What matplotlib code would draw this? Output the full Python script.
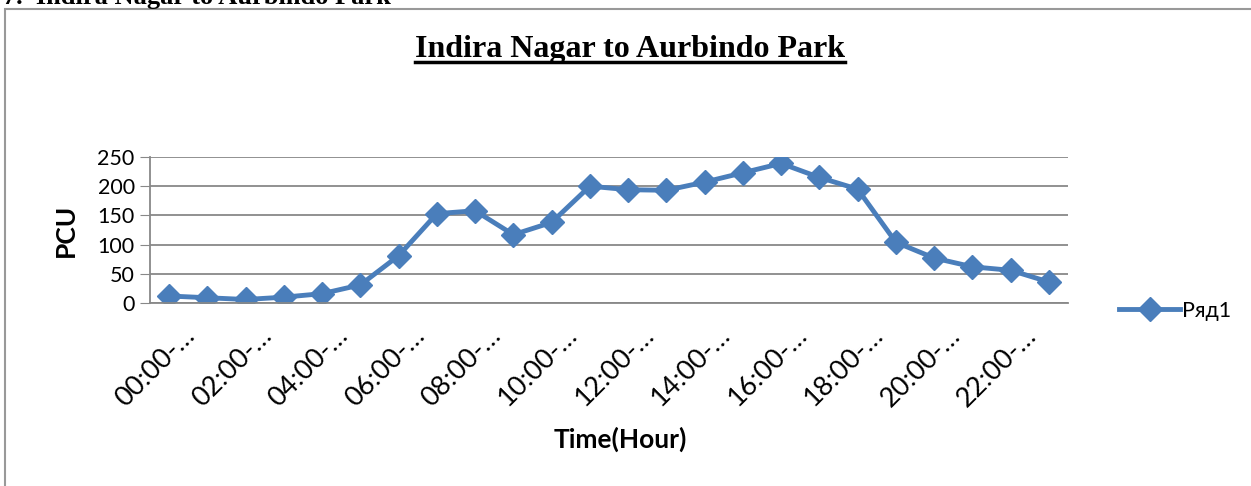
import numpy as np
import matplotlib
matplotlib.use('Agg')
import matplotlib.pyplot as plt
import matplotlib.transforms as mtransforms
from matplotlib.lines import Line2D
from matplotlib.patches import Rectangle

plt.rcParams['font.family'] = ['Lato', 'DejaVu Sans']

hours = ['%02d:00-%02d:00' % (h, (h + 1) % 24) for h in range(24)]
pcu = [12, 9, 6, 10, 16, 31, 81, 153, 158, 117, 138, 200, 194, 193, 207, 223,
       239, 215, 195, 104, 77, 62, 56, 36]
tick_labels = [h[:6] + '\u2026' if i % 2 == 0 else '' for i, h in enumerate(hours)]

blue = '#4A7EBB'
grid_grey = '#888888'

fig = plt.figure(figsize=(12.51, 4.86), dpi=100)
W, H = 1251, 486

# chart outer border
fig.patches.append(Rectangle((5 / W, -0.01), 1.1, 1 - 9 / H + 0.01, transform=fig.transFigure,
                             fill=False, edgecolor='#999999', lw=1.5))

ax = fig.add_axes([150 / W, 1 - 303 / H, 918 / W, 146 / H])
x = np.arange(len(pcu))
ax.plot(x, pcu, color=blue, lw=3.5, marker='D', markersize=12, label='Ряд1')
ax.set_xlim(-0.5, len(pcu) - 0.5)
ax.set_ylim(0, 250)
ax.set_yticks(np.arange(0, 251, 50))
ax.yaxis.grid(True, color=grid_grey, lw=1.3)
ax.set_axisbelow(True)
for s in ['top', 'right']:
    ax.spines[s].set_visible(False)
ax.spines['left'].set_color(grid_grey)
ax.spines['bottom'].set_color(grid_grey)
ax.spines['left'].set_linewidth(1.3)
ax.spines['bottom'].set_linewidth(1.3)
ax.tick_params(axis='y', length=7, color=grid_grey, labelsize=15.5, pad=4)
ax.tick_params(axis='x', length=0, labelsize=19.5, pad=14)
ax.set_xticks(x)
ax.set_xticklabels(tick_labels, rotation=45, ha='right', rotation_mode='anchor')
offset = mtransforms.ScaledTranslation(13 / 100, 0, fig.dpi_scale_trans)
for lab in ax.get_xticklabels():
    lab.set_transform(lab.get_transform() + offset)

ax.set_ylabel('PCU', fontsize=19, fontweight='bold', labelpad=14)
ax.set_xlabel('Time(Hour)', fontsize=19, fontweight='bold')
ax.xaxis.set_label_coords(0.512, -0.85)

leg = fig.legend(handles=[Line2D([], [], color=blue, lw=3.5, marker='D', markersize=12)],
                 labels=['Ряд1'], loc='center left', bbox_to_anchor=(1100 / W, 1 - 311 / H),
                 frameon=False, fontsize=15.5, handlelength=2.8, handletextpad=0.1)

# title with underline
t = fig.text(630 / W, 1 - 49 / H, 'Indira Nagar to Aurbindo Park', ha='center', va='center',
             fontsize=23, fontweight='bold', family='Liberation Serif')
# heading cut off at the top of the page
fig.text(3 / W, 1 - 4 / H, '7.  Indira Nagar to Aurbindo Park', ha='left', va='baseline',
         fontsize=19, fontweight='bold', family='Liberation Serif')

fig.canvas.draw()
bb = t.get_window_extent().transformed(fig.transFigure.inverted())
fig.add_artist(Line2D([bb.x0, bb.x1], [bb.y0 + 0.004, bb.y0 + 0.004], transform=fig.transFigure,
                      color='black', lw=2.5))

fig.savefig('out.png', dpi=100)
